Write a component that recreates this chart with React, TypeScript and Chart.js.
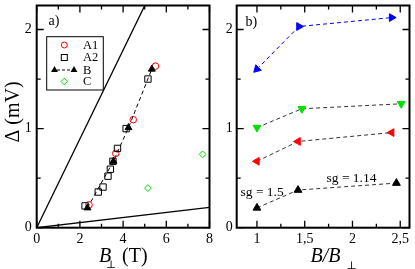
import React, { useEffect, useRef } from "react";
import { Chart, registerables } from "chart.js";
Chart.register(...registerables);

// ---------- Panel a) data ----------
const A1_B = [2.42, 3.66, 4.47, 5.5];
const A1_D = [0.23, 0.75, 1.09, 1.63];
const A2_B = [2.24, 2.85, 3.07, 3.3, 3.41, 3.53, 3.74, 4.14, 5.15];
const A2_D = [0.22, 0.36, 0.41, 0.52, 0.59, 0.67, 0.8, 1.0, 1.5];
const B_B = [2.35, 3.55, 4.25, 5.33];
const B_D = [0.2, 0.67, 1.01, 1.6];
const C_B = [5.15, 7.68];
const C_D = [0.4, 0.74];
const UPPER_B = [0, 5.2];
const UPPER_D = [0, 2.33];
const LOWER_B = [0, 8];
const LOWER_D = [0, 0.205];

const A_X_TICKS = [0, 2, 4, 6, 8];
const A_X_MINOR = [1, 3, 5, 7];
const Y_TICKS = [0, 1, 2];
const Y_MINOR = [0.5, 1.5];

// ---------- Panel b) data ----------
const BLUE_X = [1.0, 1.44, 2.41];
const BLUE_Y = [1.6, 2.03, 2.12];
const GREEN_X = [1.0, 1.47, 2.51];
const GREEN_Y = [1.01, 1.2, 1.25];
const RED_X = [1.0, 1.43, 2.41];
const RED_Y = [0.67, 0.87, 0.96];
const BLACK_X = [1.0, 1.43, 2.46];
const BLACK_Y = [0.2, 0.38, 0.45];

const B_X_TICKS = [1, 1.5, 2, 2.5];
const B_X_LABELS = ["1", "1,5", "2", "2,5"];
const B_X_MINOR = [1.25, 1.75, 2.25];

const SERIF = "'Liberation Serif', 'Times New Roman', serif";
const SYM = "'DejaVu Serif', 'DejaVu Sans', serif";

const pts = (xs: number[], ys: number[]) => xs.map((x, i) => ({ x, y: ys[i] }));

function framePlugin(xMajor: number[], xMinor: number[], extra: (c: any) => void) {
  return {
    id: "frame",
    afterDraw(chart: any) {
      const { ctx, chartArea: a, scales } = chart;
      ctx.save();
      ctx.strokeStyle = "#000";
      ctx.lineWidth = 1.3;
      const tick = (vals: number[], len: number, isX: boolean) => {
        vals.forEach((v) => {
          ctx.beginPath();
          if (isX) {
            const p = scales.x.getPixelForValue(v);
            ctx.moveTo(p, a.bottom);
            ctx.lineTo(p, a.bottom - len);
            ctx.moveTo(p, a.top);
            ctx.lineTo(p, a.top + len);
          } else {
            const p = scales.y.getPixelForValue(v);
            ctx.moveTo(a.left, p);
            ctx.lineTo(a.left + len, p);
            ctx.moveTo(a.right, p);
            ctx.lineTo(a.right - len, p);
          }
          ctx.stroke();
        });
      };
      tick(xMajor, 7, true);
      tick(xMinor, 4, true);
      tick(Y_TICKS, 7, false);
      tick(Y_MINOR, 4, false);
      ctx.lineWidth = 2;
      ctx.strokeRect(a.left, a.top, a.right - a.left, a.bottom - a.top);
      ctx.restore();
      ctx.save();
      extra(chart);
      ctx.restore();
    },
  };
}

function axisOpts(min: number, max: number, ticks: number[], padding: number, fit: (s: any) => void, labels?: string[]) {
  return {
    type: "linear" as const,
    min,
    max,
    grid: { display: false, drawTicks: false },
    border: { display: false },
    afterBuildTicks: (s: any) => {
      s.ticks = ticks.map((v) => ({ value: v }));
    },
    afterFit: (s: any) => {
      fit(s);
      s.paddingTop = 0;
      s.paddingBottom = 0;
      s.paddingLeft = 0;
      s.paddingRight = 0;
    },
    ticks: {
      padding,
      color: "#000",
      font: { family: SERIF, size: 14 },
      callback: (v: any) => {
        if (labels) {
          const i = ticks.indexOf(Number(v));
          return i >= 0 ? labels[i] : "";
        }
        return String(v);
      },
    },
  };
}

function drawTri(ctx: CanvasRenderingContext2D, x: number, y: number, r: number) {
  ctx.beginPath();
  ctx.moveTo(x, y - r);
  ctx.lineTo(x + r * 0.866, y + r * 0.5);
  ctx.lineTo(x - r * 0.866, y + r * 0.5);
  ctx.closePath();
  ctx.fill();
}

function extraA(chart: any) {
  const { ctx } = chart;
  // legend box
  ctx.strokeStyle = "#000";
  ctx.lineWidth = 1;
  ctx.strokeRect(46.7, 36.7, 56.6, 53.3);
  const mx = 64.3;
  // A1
  ctx.strokeStyle = "#ff0000";
  ctx.beginPath();
  ctx.arc(mx, 45, 3, 0, Math.PI * 2);
  ctx.stroke();
  // A2
  ctx.strokeStyle = "#000";
  ctx.strokeRect(mx - 3, 57.5 - 3, 6, 6);
  // B
  ctx.fillStyle = "#000";
  drawTri(ctx, 54.5, 70, 4);
  drawTri(ctx, 74, 70, 4);
  ctx.setLineDash([3, 2]);
  ctx.beginPath();
  ctx.moveTo(57, 70);
  ctx.lineTo(72, 70);
  ctx.stroke();
  ctx.setLineDash([]);
  // C
  ctx.strokeStyle = "#00dd00";
  ctx.beginPath();
  ctx.moveTo(mx, 81.5 - 3.3);
  ctx.lineTo(mx + 3.3, 81.5);
  ctx.lineTo(mx, 81.5 + 3.3);
  ctx.lineTo(mx - 3.3, 81.5);
  ctx.closePath();
  ctx.stroke();
  ctx.fillStyle = "#000";
  ctx.font = `12.5px ${SERIF}`;
  ctx.textBaseline = "middle";
  ctx.textAlign = "left";
  ctx.fillText("A1", 83, 45.5);
  ctx.fillText("A2", 83, 58);
  ctx.fillText("B", 83, 70.5);
  ctx.fillText("C", 83, 82);
  // panel label
  ctx.font = `14px ${SERIF}`;
  ctx.fillText("a)", 48.5, 21);
  // axis titles
  ctx.textBaseline = "alphabetic";
  ctx.font = `italic 20px ${SERIF}`;
  ctx.fillText("B", 99, 262);
  ctx.font = `20px ${SERIF}`;
  ctx.fillText("(T)", 122, 262);
  ctx.font = `11px ${SYM}`;
  ctx.fillText("\u22A5", 106, 268);
  ctx.save();
  ctx.translate(19, 112);
  ctx.rotate(-Math.PI / 2);
  ctx.font = `20px ${SERIF}`;
  ctx.textAlign = "center";
  ctx.fillText("\u0394 (mV)", 0, 0);
  ctx.restore();
}

function extraB(chart: any) {
  const { ctx } = chart;
  const off = 214;
  ctx.fillStyle = "#000";
  ctx.textAlign = "left";
  ctx.textBaseline = "middle";
  ctx.font = `14px ${SERIF}`;
  ctx.fillText("b)", 245.5 - off, 22);
  ctx.font = `13.5px ${SERIF}`;
  ctx.fillText("sg = 1.5", 240.5 - off, 192);
  ctx.fillText("sg = 1.14", 326.5 - off, 178.5);
  ctx.textBaseline = "alphabetic";
  ctx.font = `italic 20px ${SERIF}`;
  ctx.fillText("B/B", 310.5 - off, 262);
  ctx.font = `11px ${SYM}`;
  ctx.fillText("\u22A5", 346.5 - off, 269);
}

const baseOpts = {
  animation: false as const,
  responsive: false,
  events: [] as any[],
  plugins: { legend: { display: false }, tooltip: { enabled: false } },
};

export default function App() {
  const refA = useRef<HTMLCanvasElement>(null);
  const refB = useRef<HTMLCanvasElement>(null);

  useEffect(() => {
    const dash = [4, 3];
    const chartA = new Chart(refA.current!, {
      type: "scatter",
      data: {
        datasets: [
          { data: pts(UPPER_B, UPPER_D), showLine: true, borderColor: "#000", borderWidth: 1.3, pointRadius: 0 },
          { data: pts(LOWER_B, LOWER_D), showLine: true, borderColor: "#000", borderWidth: 1.3, pointRadius: 0 },
          { data: pts(B_B, B_D), showLine: true, borderColor: "#000", borderWidth: 1, borderDash: dash, pointStyle: "triangle", pointRadius: 4, backgroundColor: "#000", pointBackgroundColor: "#000", pointBorderColor: "#000" },
          { data: pts(A2_B, A2_D), pointStyle: "rect", pointRadius: 4.5, pointBorderWidth: 1, pointBorderColor: "#000", pointBackgroundColor: "rgba(255,255,255,0)" },
          { data: pts(A1_B, A1_D), pointStyle: "circle", pointRadius: 3.3, pointBorderWidth: 1, pointBorderColor: "#ff0000", pointBackgroundColor: "rgba(255,255,255,0)" },
          { data: pts(C_B, C_D), pointStyle: "rectRot", pointRadius: 3.4, pointBorderWidth: 1, pointBorderColor: "#00dd00", pointBackgroundColor: "rgba(255,255,255,0)" },
        ],
      },
      options: {
        ...baseOpts,
        layout: { padding: { top: 2.7, right: 2.3, bottom: 0, left: 0 } },
        scales: {
          x: axisOpts(0, 8, A_X_TICKS, 3, (s: any) => { s.height = 41.3; }),
          y: axisOpts(0, 2.242, Y_TICKS, 5, (s: any) => { s.width = 36.7; }),
        },
      } as any,
      plugins: [framePlugin(A_X_TICKS, A_X_MINOR, extraA)],
    });

    const mk = (xs: number[], ys: number[], color: string, line: string, rot: number[] | number) => ({
      data: pts(xs, ys),
      showLine: true,
      borderColor: line,
      borderWidth: 1,
      borderDash: dash,
      pointStyle: "triangle",
      pointRadius: 4.5,
      pointRotation: rot,
      pointBackgroundColor: color,
      pointBorderColor: color,
      pointBorderWidth: 1,
    });

    const chartB = new Chart(refB.current!, {
      type: "scatter",
      data: {
        datasets: [
          mk(BLUE_X, BLUE_Y, "#0000ff", "#0000ff", [225, 90, 90]),
          mk(GREEN_X, GREEN_Y, "#00e000", "#333", 180),
          mk(RED_X, RED_Y, "#ff0000", "#333", 270),
          mk(BLACK_X, BLACK_Y, "#000", "#333", 0),
        ] as any,
      },
      options: {
        ...baseOpts,
        layout: { padding: { top: 2.7, right: 2.3, bottom: 0, left: 0 } },
        scales: {
          x: axisOpts(0.788, 2.597, B_X_TICKS, 3, (s: any) => { s.height = 41.3; }, B_X_LABELS),
          y: axisOpts(0, 2.242, Y_TICKS, 4, (s: any) => { s.width = 22.7; }),
        },
      } as any,
      plugins: [framePlugin(B_X_TICKS, B_X_MINOR, extraB)],
    });

    return () => {
      chartA.destroy();
      chartB.destroy();
    };
  }, []);

  return (
    <div style={{ position: "absolute", left: 0, top: 0, width: 415, height: 269, background: "#fff" }}>
      <canvas ref={refA} width={215} height={269} style={{ position: "absolute", left: 0, top: 0, width: 215, height: 269 }} />
      <canvas ref={refB} width={201} height={269} style={{ position: "absolute", left: 214, top: 0, width: 201, height: 269 }} />
    </div>
  );
}
